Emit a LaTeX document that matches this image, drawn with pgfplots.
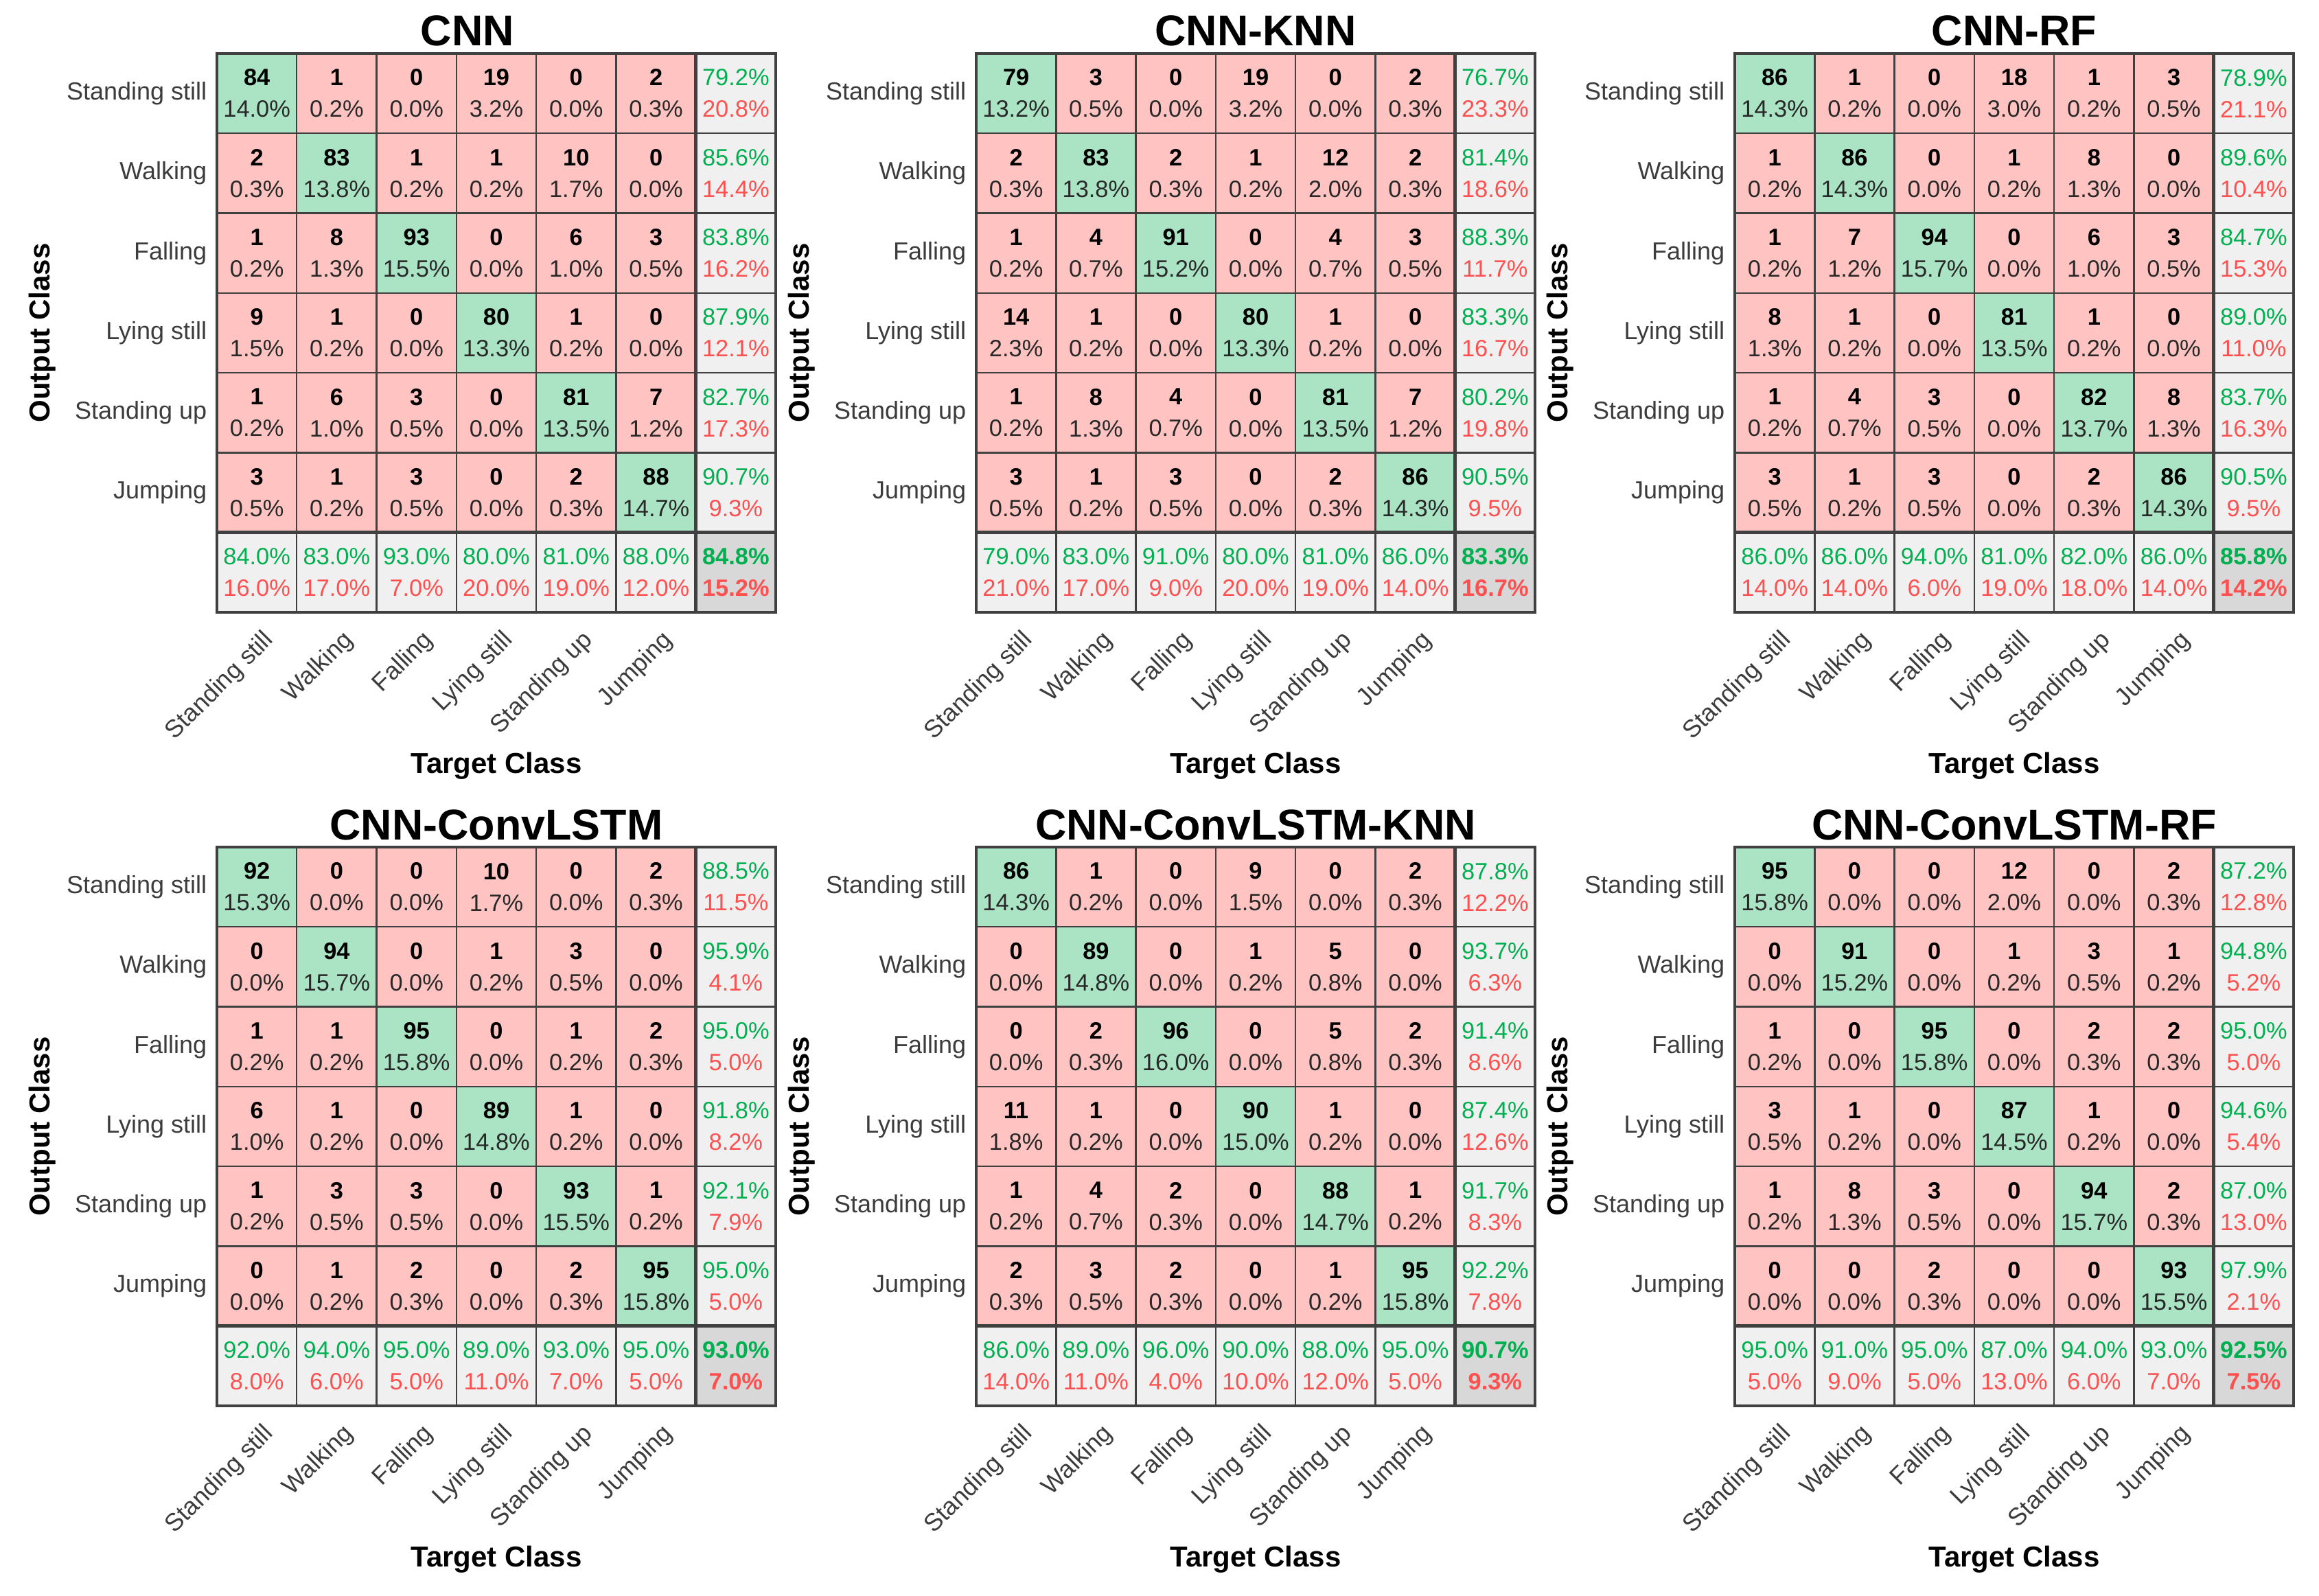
\documentclass[border=0pt]{standalone}
\usepackage{fontspec}
\setmainfont{Liberation Sans}
\usepackage{pgfplots}
\usepackage{pgfplotstable}
\pgfplotsset{compat=1.18}
\pgfkeys{/pgf/number format/assume math mode=true}

\definecolor{tgreen}{RGB}{0,176,80}
\definecolor{tred}{RGB}{255,80,80}
\definecolor{pcttext}{RGB}{40,40,40}
\definecolor{tickgray}{RGB}{60,60,60}
\definecolor{linegray}{RGB}{64,64,64}

% cell text by kind: 0 off-diagonal, 1 diagonal, 2 summary, 3 overall
\newcommand\cnt[1]{\pgfmathprintnumber[fixed,precision=0]{#1}}
\newcommand\pct[1]{\pgfmathprintnumber[fixed,fixed zerofill,precision=1]{#1}\%}
\expandafter\def\csname cm0\endcsname#1#2{{\bfseries\cnt{#1}}\\\textcolor{pcttext}{\pct{#2}}}
\expandafter\def\csname cm1\endcsname#1#2{{\bfseries\cnt{#1}}\\\textcolor{pcttext}{\pct{#2}}}
\expandafter\def\csname cm2\endcsname#1#2{\textcolor{tgreen}{\pct{#1}}\\\textcolor{tred}{\pct{#2}}}
\expandafter\def\csname cm3\endcsname#1#2{\textcolor{tgreen}{\bfseries\pct{#1}}\\\textcolor{tred}{\bfseries\pct{#2}}}
\newcommand\cmcell{\pgfmathtruncatemacro\kk{\kind}\csname cm\kk\endcsname{\ca}{\cb}}

\newcommand\cmgrid{%
  \pgfplotsinvokeforeach{1.5,2.5,3.5,4.5,5.5}{%
    \draw[linegray, line width=0.6pt] (axis cs:##1,0.5) -- (axis cs:##1,7.5);}
  \pgfplotsinvokeforeach{2.5,3.5,4.5,5.5,6.5}{%
    \draw[linegray, line width=0.6pt] (axis cs:0.5,##1) -- (axis cs:7.5,##1);}
  \draw[linegray, line width=1.2pt] (axis cs:6.5,0.5) -- (axis cs:6.5,7.5);
  \draw[linegray, line width=1.2pt] (axis cs:0.5,1.5) -- (axis cs:7.5,1.5);
  \draw[linegray, line width=1.2pt] (axis cs:0.5,0.5) rectangle (axis cs:7.5,7.5);
}

\pgfplotsset{
  cm/.style={
    anchor=north west,
    width=203.5pt, height=203.5pt, scale only axis,
    xmin=0.5, xmax=7.5, ymin=0.5, ymax=7.5,
    clip=false,
    axis line style={draw=none}, tick style={draw=none},
    xtick={1,2,3,4,5,6},
    xticklabels={Standing still,Walking,Falling,Lying still,Standing up,Jumping},
    ytick={2,3,4,5,6,7},
    yticklabels={Jumping,Standing up,Lying still,Falling,Walking,Standing still},
    ticklabel style={font=\fontsize{9}{10.5}\selectfont, text=tickgray, inner sep=0pt},
    xticklabel style={xshift=4.75pt, yshift=-8.75pt, rotate=45, anchor=east},
    yticklabel style={xshift=-3.5pt, anchor=east},
    xlabel={Target Class}, ylabel={Output Class},
    label style={font=\bfseries\fontsize{10.5}{12}\selectfont},
    xlabel style={at={(axis description cs:0.5,-0.2752)}, anchor=center},
    ylabel style={at={(axis description cs:-0.312,0.5)}, anchor=center},
    every axis title shift=0pt,
    title style={font=\bfseries\fontsize{15.7}{18}\selectfont,
      at={(axis description cs:0.5,1.0135)}, anchor=base},
    colormap={cmcol}{rgb255=(255,196,193) rgb255=(171,228,196) rgb255=(240,240,240) rgb255=(216,216,216)},
    colormap access=direct,
  },
  cmcells/.style={matrix plot*, mesh/cols=7, point meta=explicit},
  cmtext/.style={only marks, mark=none,
    point meta=\thisrow{k},
    visualization depends on={\thisrow{k}\as\kind},
    visualization depends on={\thisrow{a}\as\ca},
    visualization depends on={\thisrow{b}\as\cb},
    nodes near coords={\cmcell},
    nodes near coords align=center,
    every node near coord/.append style={font=\fontsize{8.6}{11.5}\selectfont,
      align=center, inner sep=0pt, text=black}},
}

% x y k count percent  (y=7 top row, y=1 summary row)
\pgfplotstableread{
x y k a b
1 7 1 84 14.0
2 7 0 1 0.2
3 7 0 0 0.0
4 7 0 19 3.2
5 7 0 0 0.0
6 7 0 2 0.3
7 7 2 79.2 20.8
1 6 0 2 0.3
2 6 1 83 13.8
3 6 0 1 0.2
4 6 0 1 0.2
5 6 0 10 1.7
6 6 0 0 0.0
7 6 2 85.6 14.4
1 5 0 1 0.2
2 5 0 8 1.3
3 5 1 93 15.5
4 5 0 0 0.0
5 5 0 6 1.0
6 5 0 3 0.5
7 5 2 83.8 16.2
1 4 0 9 1.5
2 4 0 1 0.2
3 4 0 0 0.0
4 4 1 80 13.3
5 4 0 1 0.2
6 4 0 0 0.0
7 4 2 87.9 12.1
1 3 0 1 0.2
2 3 0 6 1.0
3 3 0 3 0.5
4 3 0 0 0.0
5 3 1 81 13.5
6 3 0 7 1.2
7 3 2 82.7 17.3
1 2 0 3 0.5
2 2 0 1 0.2
3 2 0 3 0.5
4 2 0 0 0.0
5 2 0 2 0.3
6 2 1 88 14.7
7 2 2 90.7 9.3
1 1 2 84.0 16.0
2 1 2 83.0 17.0
3 1 2 93.0 7.0
4 1 2 80.0 20.0
5 1 2 81.0 19.0
6 1 2 88.0 12.0
7 1 3 84.8 15.2
}\tA

\pgfplotstableread{
x y k a b
1 7 1 79 13.2
2 7 0 3 0.5
3 7 0 0 0.0
4 7 0 19 3.2
5 7 0 0 0.0
6 7 0 2 0.3
7 7 2 76.7 23.3
1 6 0 2 0.3
2 6 1 83 13.8
3 6 0 2 0.3
4 6 0 1 0.2
5 6 0 12 2.0
6 6 0 2 0.3
7 6 2 81.4 18.6
1 5 0 1 0.2
2 5 0 4 0.7
3 5 1 91 15.2
4 5 0 0 0.0
5 5 0 4 0.7
6 5 0 3 0.5
7 5 2 88.3 11.7
1 4 0 14 2.3
2 4 0 1 0.2
3 4 0 0 0.0
4 4 1 80 13.3
5 4 0 1 0.2
6 4 0 0 0.0
7 4 2 83.3 16.7
1 3 0 1 0.2
2 3 0 8 1.3
3 3 0 4 0.7
4 3 0 0 0.0
5 3 1 81 13.5
6 3 0 7 1.2
7 3 2 80.2 19.8
1 2 0 3 0.5
2 2 0 1 0.2
3 2 0 3 0.5
4 2 0 0 0.0
5 2 0 2 0.3
6 2 1 86 14.3
7 2 2 90.5 9.5
1 1 2 79.0 21.0
2 1 2 83.0 17.0
3 1 2 91.0 9.0
4 1 2 80.0 20.0
5 1 2 81.0 19.0
6 1 2 86.0 14.0
7 1 3 83.3 16.7
}\tB

\pgfplotstableread{
x y k a b
1 7 1 86 14.3
2 7 0 1 0.2
3 7 0 0 0.0
4 7 0 18 3.0
5 7 0 1 0.2
6 7 0 3 0.5
7 7 2 78.9 21.1
1 6 0 1 0.2
2 6 1 86 14.3
3 6 0 0 0.0
4 6 0 1 0.2
5 6 0 8 1.3
6 6 0 0 0.0
7 6 2 89.6 10.4
1 5 0 1 0.2
2 5 0 7 1.2
3 5 1 94 15.7
4 5 0 0 0.0
5 5 0 6 1.0
6 5 0 3 0.5
7 5 2 84.7 15.3
1 4 0 8 1.3
2 4 0 1 0.2
3 4 0 0 0.0
4 4 1 81 13.5
5 4 0 1 0.2
6 4 0 0 0.0
7 4 2 89.0 11.0
1 3 0 1 0.2
2 3 0 4 0.7
3 3 0 3 0.5
4 3 0 0 0.0
5 3 1 82 13.7
6 3 0 8 1.3
7 3 2 83.7 16.3
1 2 0 3 0.5
2 2 0 1 0.2
3 2 0 3 0.5
4 2 0 0 0.0
5 2 0 2 0.3
6 2 1 86 14.3
7 2 2 90.5 9.5
1 1 2 86.0 14.0
2 1 2 86.0 14.0
3 1 2 94.0 6.0
4 1 2 81.0 19.0
5 1 2 82.0 18.0
6 1 2 86.0 14.0
7 1 3 85.8 14.2
}\tC

\pgfplotstableread{
x y k a b
1 7 1 92 15.3
2 7 0 0 0.0
3 7 0 0 0.0
4 7 0 10 1.7
5 7 0 0 0.0
6 7 0 2 0.3
7 7 2 88.5 11.5
1 6 0 0 0.0
2 6 1 94 15.7
3 6 0 0 0.0
4 6 0 1 0.2
5 6 0 3 0.5
6 6 0 0 0.0
7 6 2 95.9 4.1
1 5 0 1 0.2
2 5 0 1 0.2
3 5 1 95 15.8
4 5 0 0 0.0
5 5 0 1 0.2
6 5 0 2 0.3
7 5 2 95.0 5.0
1 4 0 6 1.0
2 4 0 1 0.2
3 4 0 0 0.0
4 4 1 89 14.8
5 4 0 1 0.2
6 4 0 0 0.0
7 4 2 91.8 8.2
1 3 0 1 0.2
2 3 0 3 0.5
3 3 0 3 0.5
4 3 0 0 0.0
5 3 1 93 15.5
6 3 0 1 0.2
7 3 2 92.1 7.9
1 2 0 0 0.0
2 2 0 1 0.2
3 2 0 2 0.3
4 2 0 0 0.0
5 2 0 2 0.3
6 2 1 95 15.8
7 2 2 95.0 5.0
1 1 2 92.0 8.0
2 1 2 94.0 6.0
3 1 2 95.0 5.0
4 1 2 89.0 11.0
5 1 2 93.0 7.0
6 1 2 95.0 5.0
7 1 3 93.0 7.0
}\tD

\pgfplotstableread{
x y k a b
1 7 1 86 14.3
2 7 0 1 0.2
3 7 0 0 0.0
4 7 0 9 1.5
5 7 0 0 0.0
6 7 0 2 0.3
7 7 2 87.8 12.2
1 6 0 0 0.0
2 6 1 89 14.8
3 6 0 0 0.0
4 6 0 1 0.2
5 6 0 5 0.8
6 6 0 0 0.0
7 6 2 93.7 6.3
1 5 0 0 0.0
2 5 0 2 0.3
3 5 1 96 16.0
4 5 0 0 0.0
5 5 0 5 0.8
6 5 0 2 0.3
7 5 2 91.4 8.6
1 4 0 11 1.8
2 4 0 1 0.2
3 4 0 0 0.0
4 4 1 90 15.0
5 4 0 1 0.2
6 4 0 0 0.0
7 4 2 87.4 12.6
1 3 0 1 0.2
2 3 0 4 0.7
3 3 0 2 0.3
4 3 0 0 0.0
5 3 1 88 14.7
6 3 0 1 0.2
7 3 2 91.7 8.3
1 2 0 2 0.3
2 2 0 3 0.5
3 2 0 2 0.3
4 2 0 0 0.0
5 2 0 1 0.2
6 2 1 95 15.8
7 2 2 92.2 7.8
1 1 2 86.0 14.0
2 1 2 89.0 11.0
3 1 2 96.0 4.0
4 1 2 90.0 10.0
5 1 2 88.0 12.0
6 1 2 95.0 5.0
7 1 3 90.7 9.3
}\tE

\pgfplotstableread{
x y k a b
1 7 1 95 15.8
2 7 0 0 0.0
3 7 0 0 0.0
4 7 0 12 2.0
5 7 0 0 0.0
6 7 0 2 0.3
7 7 2 87.2 12.8
1 6 0 0 0.0
2 6 1 91 15.2
3 6 0 0 0.0
4 6 0 1 0.2
5 6 0 3 0.5
6 6 0 1 0.2
7 6 2 94.8 5.2
1 5 0 1 0.2
2 5 0 0 0.0
3 5 1 95 15.8
4 5 0 0 0.0
5 5 0 2 0.3
6 5 0 2 0.3
7 5 2 95.0 5.0
1 4 0 3 0.5
2 4 0 1 0.2
3 4 0 0 0.0
4 4 1 87 14.5
5 4 0 1 0.2
6 4 0 0 0.0
7 4 2 94.6 5.4
1 3 0 1 0.2
2 3 0 8 1.3
3 3 0 3 0.5
4 3 0 0 0.0
5 3 1 94 15.7
6 3 0 2 0.3
7 3 2 87.0 13.0
1 2 0 0 0.0
2 2 0 0 0.0
3 2 0 2 0.3
4 2 0 0 0.0
5 2 0 0 0.0
6 2 1 93 15.5
7 2 2 97.9 2.1
1 1 2 95.0 5.0
2 1 2 91.0 9.0
3 1 2 95.0 5.0
4 1 2 87.0 13.0
5 1 2 94.0 6.0
6 1 2 93.0 7.0
7 1 3 92.5 7.5
}\tF

\begin{document}
\begin{tikzpicture}
\useasboundingbox (0,0) rectangle (844.5pt,581pt);

\begin{axis}[cm, at={(79pt,561.5pt)}, title={CNN}, title style={xshift=-10.5pt}]
  \addplot[cmcells] table[x=x, y=y, meta=k] {\tA};
  \cmgrid
  \addplot[cmtext] table[x=x, y=y] {\tA};
\end{axis}

\begin{axis}[cm, at={(355.5pt,561.5pt)}, title={CNN-KNN}]
  \addplot[cmcells] table[x=x, y=y, meta=k] {\tB};
  \cmgrid
  \addplot[cmtext] table[x=x, y=y] {\tB};
\end{axis}

\begin{axis}[cm, at={(631.75pt,561.5pt)}, title={CNN-RF}]
  \addplot[cmcells] table[x=x, y=y, meta=k] {\tC};
  \cmgrid
  \addplot[cmtext] table[x=x, y=y] {\tC};
\end{axis}

\begin{axis}[cm, at={(79pt,272.5pt)}, title={CNN-ConvLSTM}]
  \addplot[cmcells] table[x=x, y=y, meta=k] {\tD};
  \cmgrid
  \addplot[cmtext] table[x=x, y=y] {\tD};
\end{axis}

\begin{axis}[cm, at={(355.5pt,272.5pt)}, title={CNN-ConvLSTM-KNN}]
  \addplot[cmcells] table[x=x, y=y, meta=k] {\tE};
  \cmgrid
  \addplot[cmtext] table[x=x, y=y] {\tE};
\end{axis}

\begin{axis}[cm, at={(631.75pt,272.5pt)}, title={CNN-ConvLSTM-RF}]
  \addplot[cmcells] table[x=x, y=y, meta=k] {\tF};
  \cmgrid
  \addplot[cmtext] table[x=x, y=y] {\tF};
\end{axis}
\end{tikzpicture}
\end{document}
